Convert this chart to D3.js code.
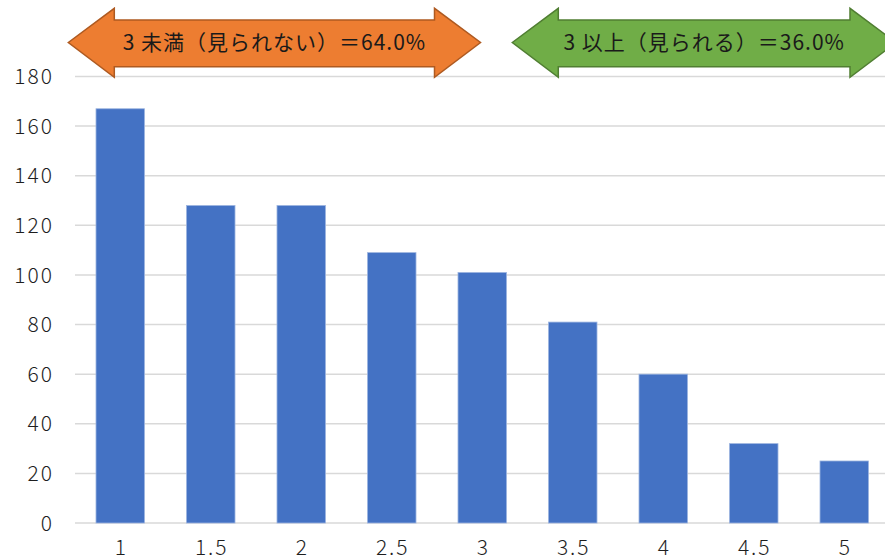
<!DOCTYPE html>
<html><head><meta charset="utf-8">
<script src="https://cdn.jsdelivr.net/npm/d3@7"></script>
<style>body{margin:0;background:#fff}svg{display:block}</style>
</head><body>
<svg id="c" width="885" height="560"></svg>
<script>
const categories = ["1","1.5","2","2.5","3","3.5","4","4.5","5"];
const values = [167,128,128,109,101,81,60,32,25];
const yTicks = [0,20,40,60,80,100,120,140,160,180];
const bandLabels = ["3 未満（見られない）＝64.0%","3 以上（見られる）＝36.0%"];

(function(){
const svg = d3.select("#c");
const font = "'Noto Sans CJK JP','Noto Sans',sans-serif";
const numFont = "'Noto Sans CJK JP','Noto Sans',sans-serif";
const x = d3.scaleBand().domain(categories).range([75, 889.5]).paddingInner(0.464).paddingOuter(0.232);
const y = d3.scaleLinear().domain([0,180]).range([523, 76.5]);

svg.append("g").selectAll("line").data(yTicks).join("line")
  .attr("x1",75).attr("x2",885)
  .attr("y1",d=>y(d)).attr("y2",d=>y(d))
  .attr("stroke","#d9d9d9").attr("stroke-width",1.5);

svg.append("g").selectAll("text").data(yTicks).join("text")
  .attr("x",54).attr("y",d=>y(d)).attr("dy","0.36em")
  .attr("text-anchor","end").attr("font-family",numFont).attr("font-weight",300)
  .attr("font-size",21).attr("letter-spacing",2).attr("fill","#1e1e1e")
  .text(d=>d);

svg.append("g").selectAll("text").data(categories).join("text")
  .attr("x",d=>x(d)+x.bandwidth()/2+1).attr("y",555)
  .attr("text-anchor","middle").attr("font-family",numFont).attr("font-weight",300)
  .attr("font-size",21).attr("letter-spacing",2).attr("fill","#1e1e1e")
  .text(d=>d);

svg.append("g").selectAll("rect").data(values).join("rect")
  .attr("x",(d,i)=>x(categories[i])).attr("width",x.bandwidth())
  .attr("y",d=>y(d)).attr("height",d=>y(0)-y(d))
  .attr("fill","#4472C4").attr("stroke","#9db5e0").attr("stroke-width",0.8);

const arrows = [
  {label: bandLabels[0], fill:"#ED7D31", stroke:"#AE5A21", x0: 68.3, x1: 480.5},
  {label: bandLabels[1], fill:"#70AD47", stroke:"#507E32", x0: 512.3, x1: 896}
];
const head = 46, hTop = 8.3, hBot = 77.3, bTop = 20, bBot = 66.7, mid = 42.5;
arrows.forEach(a=>{
  const p = d3.path();
  p.moveTo(a.x0, mid);
  p.lineTo(a.x0+head, hTop); p.lineTo(a.x0+head, bTop);
  p.lineTo(a.x1-head, bTop); p.lineTo(a.x1-head, hTop);
  p.lineTo(a.x1, mid);
  p.lineTo(a.x1-head, hBot); p.lineTo(a.x1-head, bBot);
  p.lineTo(a.x0+head, bBot); p.lineTo(a.x0+head, hBot);
  p.closePath();
  svg.append("path").attr("d",p.toString()).attr("fill",a.fill).attr("stroke",a.stroke).attr("stroke-width",1.5);
  svg.append("text").attr("x",(a.x0+a.x1)/2).attr("y",mid).attr("dy","0.36em")
    .attr("text-anchor","middle").attr("font-family",font).attr("font-size",21)
    .attr("letter-spacing",1).attr("fill","#1a1a1a")
    .text(a.label);
});
})();
</script>
</body></html>
